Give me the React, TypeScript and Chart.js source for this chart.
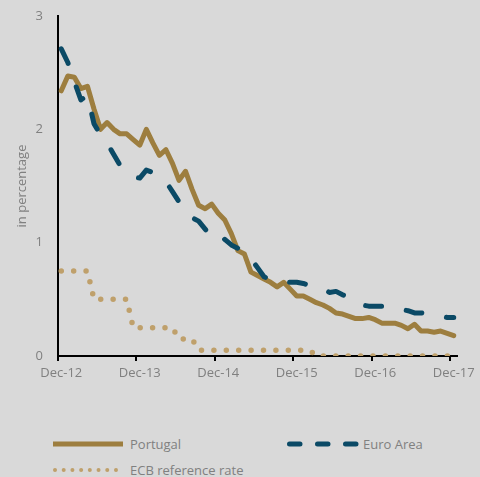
import React, { useEffect, useRef } from 'react';
import { Chart, registerables } from 'chart.js';

Chart.register(...registerables);

// ---- data ----
const MONTHS = ['Jan', 'Feb', 'Mar', 'Apr', 'May', 'Jun', 'Jul', 'Aug', 'Sep', 'Oct', 'Nov', 'Dec'];
// monthly categories Dec-12 ... Dec-17
const CATEGORIES: string[] = [];
for (let i = 0; i < 61; i++) {
  const m = (11 + i) % 12;
  const y = 12 + Math.floor((11 + i) / 12);
  CATEGORIES.push(`${MONTHS[m]}-${y}`);
}
const X_TICK_LABELS = ['Dec-12', 'Dec-13', 'Dec-14', 'Dec-15', 'Dec-16', 'Dec-17'];
const Y_TICKS = [0, 1, 2, 3];

const PORTUGAL = [
  2.34, 2.47, 2.46, 2.36, 2.38, 2.18, 2.0, 2.06, 2.0, 1.96, 1.96, 1.91, 1.86,
  2.0, 1.88, 1.77, 1.82, 1.7, 1.55, 1.63, 1.47, 1.33, 1.3, 1.34, 1.26,
  1.2, 1.08, 0.93, 0.9, 0.74, 0.71, 0.68, 0.65, 0.61, 0.65, 0.59, 0.53,
  0.53, 0.5, 0.47, 0.45, 0.42, 0.38, 0.37, 0.35, 0.33, 0.33, 0.34, 0.32,
  0.29, 0.29, 0.29, 0.27, 0.24, 0.28, 0.22, 0.22, 0.21, 0.22, 0.2, 0.18,
];
const EURO_AREA = [
  2.71, 2.59, 2.42, 2.26, 2.3, 2.05, 1.95, 1.88, 1.78, 1.68, 1.62, 1.58, 1.57,
  1.64, 1.62, 1.58, 1.54, 1.45, 1.36, 1.28, 1.22, 1.19, 1.12, 1.05, 1.0,
  1.03, 0.98, 0.95, 0.92, 0.86, 0.78, 0.7, 0.67, 0.66, 0.66, 0.65, 0.65,
  0.64, 0.62, 0.61, 0.6, 0.56, 0.57, 0.54, 0.52, 0.5, 0.45, 0.44, 0.44,
  0.44, 0.43, 0.42, 0.41, 0.4, 0.38, 0.38, 0.37, 0.36, 0.35, 0.34, 0.34,
];
const ECB_RATE = [
  0.75, 0.75, 0.75, 0.75, 0.75, 0.5, 0.5, 0.5, 0.5, 0.5, 0.5, 0.25, 0.25,
  0.25, 0.25, 0.25, 0.25, 0.25, 0.15, 0.15, 0.15, 0.05, 0.05, 0.05, 0.05,
  0.05, 0.05, 0.05, 0.05, 0.05, 0.05, 0.05, 0.05, 0.05, 0.05, 0.05, 0.05,
  0.05, 0.05, 0, 0, 0, 0, 0, 0, 0, 0, 0, 0,
  0, 0, 0, 0, 0, 0, 0, 0, 0, 0, 0, 0,
];

const SERIES_NAMES = ['Portugal', 'Euro Area', 'ECB reference rate'];
const Y_TITLE = 'in percentage';

// ---- style ----
const BG = '#d9d9d9';
const GRAY = '#808080';
const C_PT = '#9d7e3f';
const C_EA = '#0b4a66';
const C_ECB = '#bfa06b';
const FONT = '"Open Sans", sans-serif';

export default function App() {
  const ref = useRef<HTMLCanvasElement>(null);

  useEffect(() => {
    const font = { family: FONT, size: 13 };
    const chart = new Chart(ref.current as HTMLCanvasElement, {
      type: 'line',
      data: {
        labels: CATEGORIES,
        datasets: [
          {
            label: SERIES_NAMES[0],
            data: PORTUGAL,
            borderColor: C_PT,
            borderWidth: 5,
            borderJoinStyle: 'round',
            borderCapStyle: 'round',
            pointRadius: 0,
            order: 2,
          },
          {
            label: SERIES_NAMES[1],
            data: EURO_AREA,
            borderColor: C_EA,
            borderWidth: 5,
            borderDash: [16, 25],
            borderJoinStyle: 'round',
            borderCapStyle: 'round',
            pointRadius: 0,
            order: 1,
          },
          {
            label: SERIES_NAMES[2],
            data: ECB_RATE,
            borderColor: C_ECB,
            borderWidth: 5.5,
            borderDash: [0, 12.4],
            borderCapStyle: 'round',
            borderJoinStyle: 'round',
            pointRadius: 0,
            order: 3,
          },
        ],
      },
      options: {
        animation: false,
        responsive: false,
        devicePixelRatio: 1,
        layout: { padding: { left: 10, right: 23, top: 16, bottom: 8 } },
        plugins: { legend: { display: false }, tooltip: { enabled: false } },
        elements: { line: { tension: 0 }, point: { radius: 0 } },
        scales: {
          x: {
            type: 'category',
            offset: true,
            grid: {
              offset: true,
              drawOnChartArea: false,
              drawTicks: true,
              tickLength: 5,
              lineWidth: 2,
              tickColor: (ctx: any) =>
                ctx.tick && X_TICK_LABELS.includes(CATEGORIES[ctx.index]) ? '#000' : 'rgba(0,0,0,0)',
            },
            border: { display: true, color: '#000', width: 2 },
            ticks: {
              autoSkip: false,
              maxRotation: 0,
              minRotation: 0,
              padding: 4,
              color: GRAY,
              font,
              callback: (_v: any, i: number) =>
                X_TICK_LABELS.includes(CATEGORIES[i]) ? CATEGORIES[i] : '',
            },
            afterFit: (s: any) => {
              s.height = 36;
            },
          },
          y: {
            min: Y_TICKS[0],
            max: Y_TICKS[Y_TICKS.length - 1],
            grid: { drawOnChartArea: false, drawTicks: false },
            border: { display: true, color: '#000', width: 2 },
            ticks: { stepSize: 1, padding: 15, color: GRAY, font },
            title: {
              display: true,
              text: Y_TITLE,
              color: GRAY,
              font,
              padding: { top: 4, bottom: 4 },
            },
            afterFit: (s: any) => {
              s.width = 48;
              s.paddingTop = 0;
              s.paddingBottom = 0;
            },
          },
        },
      },
    });
    return () => chart.destroy();
  }, []);

  const textStyle: React.CSSProperties = {
    position: 'absolute',
    fontFamily: FONT,
    fontSize: 13,
    lineHeight: '18px',
    color: GRAY,
    whiteSpace: 'nowrap',
  };

  const ecbDots = [];
  for (let i = 0; i < 8; i++) ecbDots.push(i);

  return (
    <div
      style={{
        position: 'absolute',
        left: 0,
        top: 0,
        width: 480,
        height: 477,
        background: BG,
        overflow: 'hidden',
      }}
    >
      <canvas ref={ref} width={480} height={400} style={{ position: 'absolute', left: 0, top: 0, width: 480, height: 400 }} />
      <svg style={{ position: 'absolute', left: 0, top: 430, width: 480, height: 47 }} width={480} height={47}>
        <line x1={53} y1={14} x2={123} y2={14} stroke={C_PT} strokeWidth={5} />
        <line
          x1={289.5}
          y1={14}
          x2={356}
          y2={14}
          stroke={C_EA}
          strokeWidth={5}
          strokeLinecap="round"
          strokeDasharray="10.5 17.5"
        />
        {ecbDots.map((i) => (
          <circle key={i} cx={55 + i * 8.71} cy={40} r={2} fill={C_ECB} />
        ))}
      </svg>
      <div style={{ ...textStyle, left: 130, top: 435 }}>{SERIES_NAMES[0]}</div>
      <div style={{ ...textStyle, left: 363, top: 435 }}>{SERIES_NAMES[1]}</div>
      <div style={{ ...textStyle, left: 130, top: 461 }}>{SERIES_NAMES[2]}</div>
    </div>
  );
}
